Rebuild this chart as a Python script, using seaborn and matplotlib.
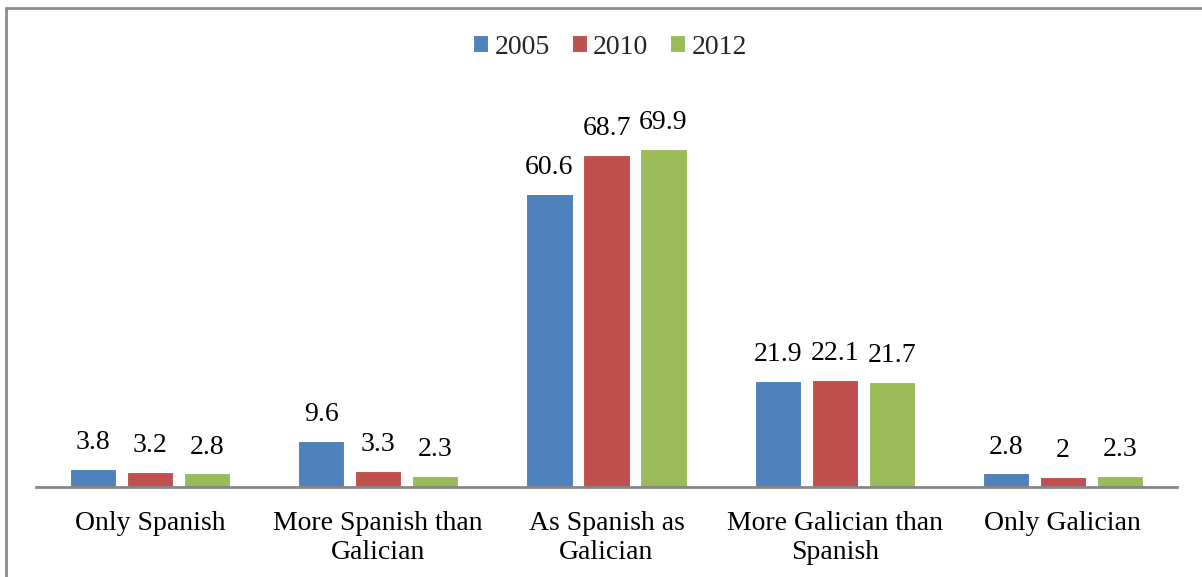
import matplotlib
matplotlib.use("Agg")
import matplotlib.pyplot as plt
import seaborn as sns
import pandas as pd
from matplotlib.lines import Line2D

categories = ["Only Spanish", "More Spanish than\nGalician", "As Spanish as\nGalician",
              "More Galician than\nSpanish", "Only Galician"]
years = ["2005", "2010", "2012"]
values_2005 = [3.8, 9.6, 60.6, 21.9, 2.8]
values_2010 = [3.2, 3.3, 68.7, 22.1, 2.0]
values_2012 = [2.8, 2.3, 69.9, 21.7, 2.3]
colors = ["#4F81BD", "#C0504D", "#9BBB59"]

rows = []
for year, vals in zip(years, [values_2005, values_2010, values_2012]):
    for cat, v in zip(categories, vals):
        rows.append({"category": cat, "year": year, "value": v})
df = pd.DataFrame(rows)

sns.set_theme(style="white")
plt.rcParams["font.family"] = ["Liberation Serif", "DejaVu Serif"]

fig = plt.figure(figsize=(12.02, 5.77), dpi=100)
ax = fig.add_axes([36 / 1202, 1 - 487 / 577, 1141 / 1202, 387 / 577])

sns.barplot(data=df, x="category", y="value", hue="year", order=categories,
            hue_order=years, palette=colors, saturation=1, width=0.75, gap=0.19,
            edgecolor="white", linewidth=0.8, ax=ax, legend=True)

ax.set_ylim(0, 80)
ax.set_xlim(-0.5, len(categories) - 0.5)
ax.set_xlabel("")
ax.set_ylabel("")
ax.set_yticks([])
for side in ["top", "right", "left"]:
    ax.spines[side].set_visible(False)
ax.spines["bottom"].set_color("#868686")
ax.spines["bottom"].set_linewidth(2)
ax.tick_params(axis="x", length=0, pad=17, labelsize=20, labelcolor="black")
for lbl in ax.get_xticklabels():
    lbl.set_linespacing(1.25)

for container in ax.containers:
    labels = [f"{v:g}" for v in container.datavalues]
    ax.bar_label(container, labels=labels, padding=10, fontsize=20, color="black")

handles, labels = ax.get_legend_handles_labels()
ax.legend(handles, labels, loc="center", bbox_to_anchor=(610 / 1202, 1 - 47 / 577),
          bbox_transform=fig.transFigure, ncol=3, frameon=False, fontsize=20,
          handlelength=0.54, handleheight=0.54, handletextpad=0.22, columnspacing=0.8)

# outer chart frame (top and left edges)
fig.add_artist(Line2D([6 / 1202, 6 / 1202], [0, 1 - 7.5 / 577], transform=fig.transFigure,
                      color="#8c8c8c", linewidth=2))
fig.add_artist(Line2D([6 / 1202, 1], [1 - 7.5 / 577, 1 - 7.5 / 577], transform=fig.transFigure,
                      color="#8c8c8c", linewidth=2))

fig.savefig("out.png", dpi=100)
